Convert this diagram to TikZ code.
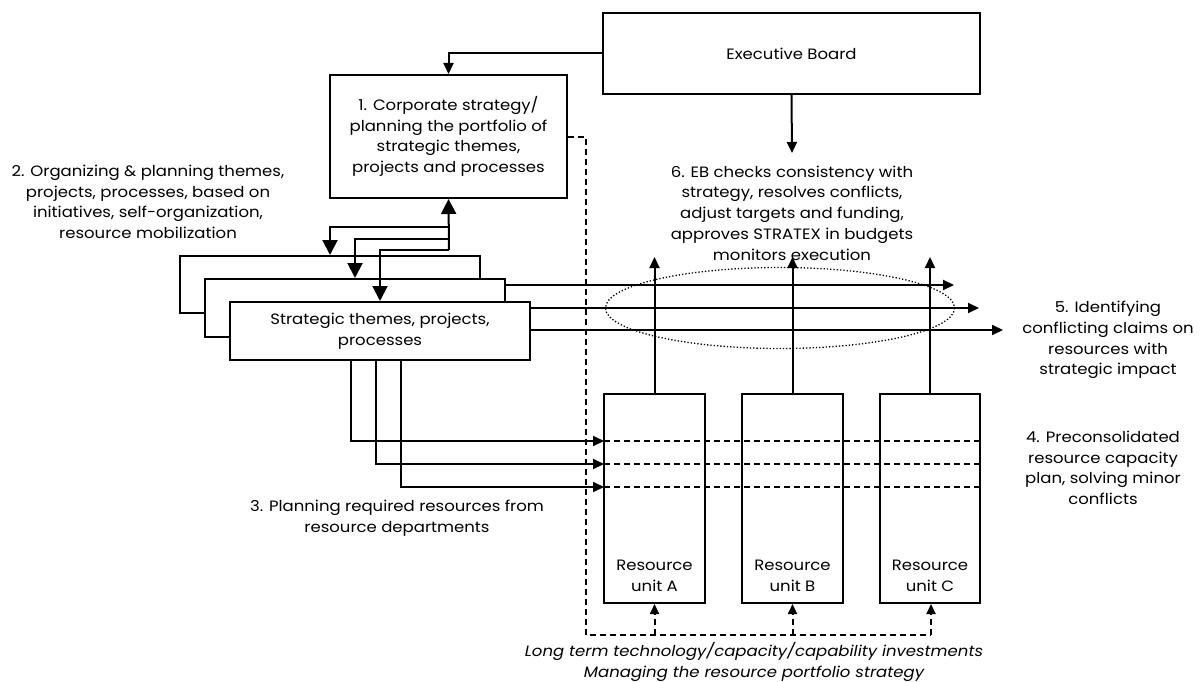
\documentclass[tikz,border=0pt]{standalone}
\usepackage{fontspec}
\setmainfont{Poppins}[FakeStretch=1.1]
\usetikzlibrary{arrows.meta}
\begin{document}
\begin{tikzpicture}[x=1pt,y=-1pt,
  every node/.style={font=\fontsize{15}{20.7}\selectfont, inner sep=0pt},
  box/.style={draw, line width=2pt, fill=white},
  txt/.style={align=center},
  arr/.style={line width=2pt, -{Triangle[length=11pt,width=10pt]}},
  bigarr/.style={line width=2pt, -{Triangle[length=15pt,width=15pt]}},
  darr/.style={line width=2pt, dash pattern=on 6pt off 4pt, -{Triangle[length=10pt,width=9pt]}},
  dline/.style={line width=2pt, dash pattern=on 6pt off 4pt},
]
\useasboundingbox (0,0) rectangle (1203,682);

% main boxes
\node[box, minimum width=377pt, minimum height=81pt] (eb) at (791.5,53.5) {Executive Board};
\node[box, minimum width=237pt, minimum height=123pt, txt] (corp) at (448.5,136.5)
  {1. Corporate strategy/\\planning the portfolio of\\strategic themes,\\projects and processes};

% stacked strategic theme boxes
\node[box, minimum width=300pt, minimum height=57pt] (stA) at (330,284.5) {};
\node[box, minimum width=300pt, minimum height=58pt] (stB) at (355,308) {};
\node[box, minimum width=300pt, minimum height=58pt, txt] (stC) at (380,331)
  {Strategic themes, projects,\\processes};

% resource units
\node[box, minimum width=101pt, minimum height=209pt] (ua) at (654.5,498.5) {};
\node[box, minimum width=101pt, minimum height=209pt] (ub) at (792.5,498.5) {};
\node[box, minimum width=100pt, minimum height=209pt] (uc) at (930,498.5) {};
\node[txt] (ta) at (654.5,576) {Resource\\unit A};
\node[txt] (tb) at (792.5,576) {Resource\\unit B};
\node[txt] (tc) at (930,576) {Resource\\unit C};

% text labels
\node[txt] (l2) at (148,202) {2. Organizing \& planning themes,\\projects, processes, based on\\initiatives, self-organization,\\resource mobilization};
\node[txt] (l6) at (792,213) {6. EB checks consistency with\\strategy, resolves conflicts,\\adjust targets and funding,\\approves STRATEX in budgets\\monitors execution};
\node[txt] (l5) at (1108,340) {5. Identifying\\conflicting claims on\\resources with\\strategic impact};
\node[txt] (l4) at (1103,468) {4. Preconsolidated\\resource capacity\\plan, solving minor\\conflicts};
\node[txt] (l3) at (397,518) {3. Planning required resources from\\resource departments};
\node[txt, font=\fontsize{15}{20.7}\selectfont\itshape] (lb) at (754,662) {Long term technology/capacity/capability investments\\Managing the resource portfolio strategy};

% executive board connectors
\draw[arr] (eb.west) -| (corp.north);
\coordinate (ebin) at (792,153);
\draw[arr] (eb.south) -- (ebin);

% feedback between theme boxes and corporate strategy
\coordinate (j1) at (449,227);
\coordinate (j2) at (449,239);
\coordinate (j3) at (449,250);
\draw[bigarr] (j3) -- (corp.south);
\draw[bigarr] (j1) -| (stA.north);
\draw[bigarr] (j2) -| (stB.north);
\draw[bigarr] (j3) -| (stC.north);

% conflicting claims arrows
\coordinate (h1s) at (505,285);  \coordinate (h1e) at (954,285);
\coordinate (h2s) at (530,308);  \coordinate (h2e) at (979,308);
\coordinate (h3s) at (530,330);  \coordinate (h3e) at (1003,330);
\draw[arr] (h1s) -- (h1e);
\draw[arr] (h2s) -- (h2e);
\draw[arr] (h3s) -- (h3e);

% resource units reporting upwards
\coordinate (ua1) at (654.5,257);
\coordinate (ub1) at (792.5,257);
\coordinate (uc1) at (930,257);
\draw[arr] (ua.north) -- (ua1);
\draw[arr] (ub.north) -- (ub1);
\draw[arr] (uc.north) -- (uc1);

% conflict zone
\draw[line width=1.3pt, dotted] (780,308) ellipse [x radius=174.5, y radius=40.5];

% resource requests
\coordinate (r1) at (351,360);  \coordinate (r1e) at (604,441);
\coordinate (r2) at (376,360);  \coordinate (r2e) at (604,464);
\coordinate (r3) at (401,360);  \coordinate (r3e) at (604,487);
\draw[arr] (r1) |- (r1e);
\draw[arr] (r2) |- (r2e);
\draw[arr] (r3) |- (r3e);
\draw[dline] (r1e) -- (980,441);
\draw[dline] (r2e) -- (980,464);
\draw[dline] (r3e) -- (980,487);

% long term investment loop
\coordinate (d1) at (586,137);
\coordinate (d2) at (586,635);
\coordinate (d3) at (931,635);
\draw[dline] (corp.east |- d1) -- (d1) -- (d2) -- (d3);
\draw[darr] (d3) -- (uc.south -| d3);
\draw[darr] (ua.south |- d2) -- (ua.south);
\draw[darr] (ub.south |- d2) -- (ub.south);
\end{tikzpicture}
\end{document}
